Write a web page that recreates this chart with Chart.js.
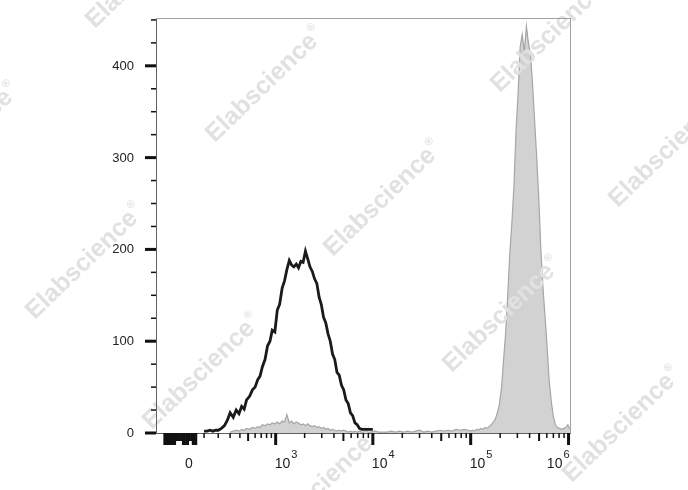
<!DOCTYPE html>
<html><head><meta charset="utf-8">
<script src="https://cdn.jsdelivr.net/npm/chart.js@4.4.1/dist/chart.umd.min.js"></script>
<style>html,body{margin:0;padding:0;background:#fff;}canvas{display:block;}</style>
</head><body>
<canvas id="c" width="688" height="490"></canvas>
<script>
// ---- data (fluorescence value bins and event counts) ----
const blackX = [100,120,140,160,180,200,225,250,275,300,330,360,390,420,450,480,520,560,600,640,680,720,770,820,870,920,980,1040,1100,1170,1240,1310,1390,1470,1550,1640,1730,1830,1930,2040,2150,2270,2400,2530,2670,2820,2970,3130,3300,3480,3670,3870,4080,4300,4530,4780,5040,5310,5600,5900,6220,6560,6920,7300,7700,8100,8550,9000,9500,10000];
const blackCounts = [2,2,3,2,3,3,5,8,14,22,17,25,21,29,26,36,40,47,50,58,62,72,80,95,100,112,110,134,140,158,166,178,188,183,181,184,180,187,186,198,190,181,176,168,163,148,140,126,120,108,100,86,80,66,63,52,47,36,32,22,19,11,9,5,4,4,4,4,4,4];

const grayX = [300,330,360,390,420,450,480,520,560,600,640,680,720,770,820,870,920,980,1040,1100,1170,1240,1310,1390,1470,1550,1640,1730,1830,1930,2040,2150,2270,2400,2530,2670,2820,2970,3130,3300,3480,3670,3870,4080,4300,4530,4780,5040,5310,5600,5900,6220,6560,6920,7300,7700,8100,8550,9000,
  9500,10500,11500,12700,14000,15400,17000,18700,20600,22600,24900,27400,30100,33100,36500,40100,44100,48600,53400,58800,64600,71100,78200,86000,94600,
  100000,105000,110000,115500,121000,127000,133500,140000,147000,154500,162000,170000,178500,187500,197000,207000,217000,228000,239000,251000,264000,277000,291000,305000,320000,336000,353000,371000,389000,409000,429000,450000,473000,497000,521000,547000,575000,603000,634000,665000,699000,734000,770000,809000,849000,892000,936000,983000,1030000];
const grayCounts = [1,2,3,2,4,3,5,4,6,5,7,6,9,8,10,9,11,10,12,10,13,12,20,11,13,10,12,11,9,10,8,10,8,7,8,6,7,5,6,4,5,3,4,3,2,3,2,3,2,1,2,1,2,1,2,1,1,2,1,
  1,2,1,1,1,2,1,2,1,2,1,2,3,1,2,1,2,3,2,3,2,4,3,4,3,
  2,3,2,4,3,5,4,6,5,7,9,12,15,22,32,50,80,110,150,195,230,270,330,370,420,434,415,443,425,412,380,340,300,255,200,160,127,95,57,35,18,9,6,5,4,5,6,9,4];

// ---- ticks ----
const yTickValues = [0,25,50,75,100,125,150,175,200,225,250,275,300,325,350,375,400,425,450];
const yLabelValues = [0,100,200,300,400];
const xMajorTicks = [1000,10000,100000,1000000];
const xMidTicks = [500,5000,50000,500000];
const xMinorTicks = [100,200,300,400,600,700,800,900,2000,3000,4000,6000,7000,8000,9000,20000,30000,40000,60000,70000,80000,90000,200000,300000,400000,600000,700000,800000,900000];
const xNegTicks = [-150,-140,-130,-120,-110,-100,-90,-80,-70,-60,-50,-40,-30,-20,-10,0,10,20,30,40,50];
const xLabelValues = [0,1000,10000,100000,1000000];
const xLabelBase = ['0','10','10','10','10'];
const xLabelExp = ['','3','4','5','6'];
const watermarkText = 'Elabscience';

// ---- biexponential (arcsinh) scale ----
const BIEX_W = 258;
class BiexScale extends Chart.LinearScale {
  tf(v){ return Math.asinh(v / BIEX_W); }
  configure(){
    super.configure();
    this._tMin = this.tf(this.min);
    this._tMax = this.tf(this.max);
  }
  getPixelForValue(v){
    if (v === null || v === undefined) return NaN;
    const t0 = this._tMin ?? this.tf(this.min), t1 = this._tMax ?? this.tf(this.max);
    return this.getPixelForDecimal((this.tf(v) - t0) / (t1 - t0));
  }
  getValueForPixel(p){
    const d = this.getDecimalForPixel(p);
    return BIEX_W * Math.sinh(this._tMin + d * (this._tMax - this._tMin));
  }
}
BiexScale.id = 'biex';
BiexScale.defaults = {};
Chart.register(BiexScale);

const FONT = '"Liberation Sans", Arial, Helvetica, sans-serif';
const WM_CENTERS = [[142,-26],[262,88],[380,202],[499,318],[619,428],[547,38],[665,153],[-43,144],[82,265],[199,375],[317,490]];

function drawWatermarks(ctx){
  ctx.save();
  ctx.fillStyle = 'rgb(225,225,225)';
  for (const [cx, cy] of WM_CENTERS){
    ctx.save();
    ctx.translate(cx, cy);
    ctx.rotate(-44 * Math.PI / 180);
    ctx.font = 'bold 25px ' + FONT;
    const w = ctx.measureText(watermarkText).width;
    ctx.textBaseline = 'middle';
    ctx.textAlign = 'left';
    ctx.fillText(watermarkText, -w/2, 0);
    ctx.font = 'bold 11px ' + FONT;
    ctx.fillText('\u00AE', w/2 + 1, -9);
    ctx.restore();
  }
  ctx.restore();
}

const axesPlugin = {
  id: 'flowAxes',
  afterDatasetDraw(chart, args){ if (args.index === 0) drawWatermarks(chart.ctx); },
  afterDraw(chart){
    const ctx = chart.ctx, a = chart.chartArea, xs = chart.scales.x, ys = chart.scales.y;
    ctx.save();
    ctx.strokeStyle = '#a0a0a0'; ctx.lineWidth = 1;
    ctx.strokeRect(a.left - 0.5, a.top - 0.5, a.right - a.left + 1, a.bottom - a.top + 1);
    ctx.strokeStyle = '#606060';
    ctx.beginPath();
    ctx.moveTo(a.left - 0.5, a.top); ctx.lineTo(a.left - 0.5, a.bottom + 0.5); ctx.lineTo(a.right + 0.5, a.bottom + 0.5);
    ctx.stroke();
    ctx.fillStyle = '#111';
    // y ticks
    for (const v of yTickValues){
      const y = ys.getPixelForValue(v);
      const major = yLabelValues.includes(v);
      const len = major ? 11 : 5, w = major ? 3 : 1.5;
      ctx.fillRect(a.left - 1 - len, y - w/2, len, w);
    }
    ctx.font = '13px ' + FONT; ctx.textAlign = 'right'; ctx.textBaseline = 'middle'; ctx.fillStyle = '#222';
    for (const v of yLabelValues){ ctx.fillText(String(v), 134, ys.getPixelForValue(v) + 0.5); }
    // x ticks
    ctx.fillStyle = '#111';
    const xt = (v, len, w) => { const x = xs.getPixelForValue(v); ctx.fillRect(x - w/2, a.bottom, w, len); };
    for (const v of xNegTicks){
      const long = (v <= -80) || (v >= -30 && v <= 0) || (v >= 30);
      xt(v, long ? 12 : 8, 2.2);
    }
    for (const v of xMinorTicks) xt(v, 5, 1.5);
    for (const v of xMidTicks) xt(v, 8, 2);
    for (const v of xMajorTicks) xt(v, 12, 3);
    // x labels
    ctx.fillStyle = '#222'; ctx.textBaseline = 'alphabetic';
    xLabelValues.forEach((v, i) => {
      const x = xs.getPixelForValue(v);
      const base = xLabelBase[i], ex = xLabelExp[i];
      if (!ex){ ctx.font = '14px ' + FONT; ctx.textAlign = 'center'; ctx.fillText(base, x + 1, 468); return; }
      ctx.font = '14px ' + FONT; const bw = ctx.measureText(base).width;
      ctx.font = '11px ' + FONT; const ew = ctx.measureText(ex).width;
      const total = bw + 1 + ew;
      const x0 = (i === xLabelValues.length - 1) ? x + 1 - total : x - 1;
      ctx.textAlign = 'left';
      ctx.font = '14px ' + FONT; ctx.fillText(base, x0, 468);
      ctx.font = '11px ' + FONT; ctx.fillText(ex, x0 + bw + 1, 458);
    });
    ctx.restore();
  }
};

new Chart(document.getElementById('c'), {
  type: 'line',
  data: {
    datasets: [
      { label: 'gray', data: grayX.map((x, i) => ({x, y: grayCounts[i]})), order: 1,
        borderColor: '#a6a6a6', backgroundColor: '#d2d2d2', borderWidth: 1.2, fill: 'origin',
        pointRadius: 0, tension: 0 },
      { label: 'black', data: blackX.map((x, i) => ({x, y: blackCounts[i]})), order: 0,
        borderColor: '#1a1a1a', borderWidth: 2.8, fill: false, pointRadius: 0, tension: 0 }
    ]
  },
  options: {
    responsive: false, animation: false, events: [],
    layout: { padding: { left: 157, right: 118, top: 19, bottom: 57 } },
    plugins: { legend: { display: false }, tooltip: { enabled: false } },
    scales: {
      x: { type: 'biex', min: -205, max: 1035000, display: false },
      y: { type: 'linear', min: 0, max: 451, display: false }
    }
  },
  plugins: [axesPlugin]
});
</script>
</body></html>
